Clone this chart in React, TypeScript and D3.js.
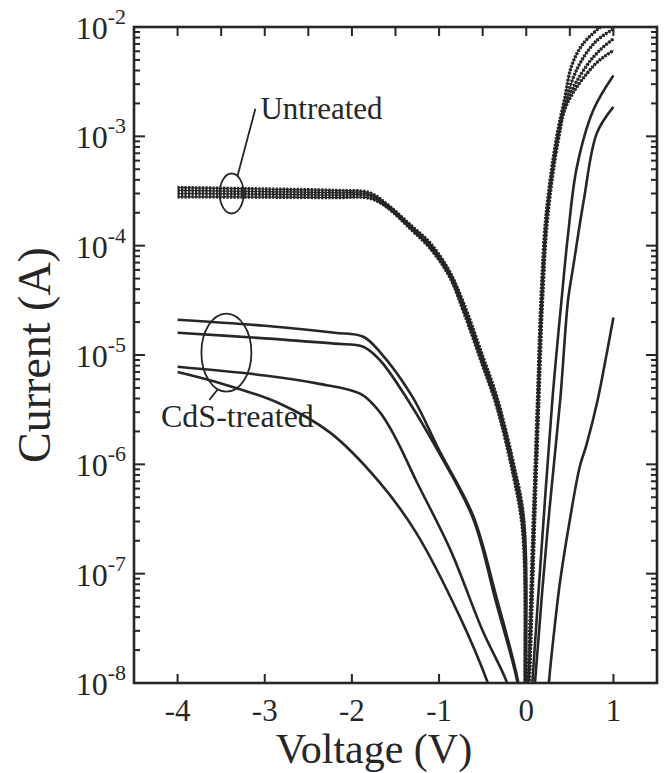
import React from "react";
import * as d3 from "d3";

// ---------- data (voltage V, current A) ----------
const xTicksBottom = [-4, -3, -2, -1, 0, 1];
const xTicksTop = [-4, -3.5, -3, -2.5, -2, -1.5, -1, -0.5, 0, 0.5, 1];
const yDecades = [-8, -7, -6, -5, -4, -3, -2];

// Untreated (marker curves)
const untreated1 = [
  [-4, 3.4e-4], [-3, 3.3e-4], [-2.2, 3.2e-4], [-1.8, 3.05e-4], [-1.6, 2.4e-4], [-1.33, 1.55e-4],
  [-1.1, 1.05e-4], [-0.88, 5.8e-5], [-0.72, 3.0e-5], [-0.5, 9.8e-6], [-0.34, 4.2e-6],
  [-0.15, 1.05e-6], [-0.03, 3.2e-7], [-0.008, 1e-8], [-0.004, 4e-9],
];
const untreated2 = [
  [-4, 3.2e-4], [-3, 3.12e-4], [-2.2, 3.05e-4], [-1.8, 2.95e-4], [-1.6, 2.35e-4], [-1.33, 1.5e-4],
  [-1.1, 1.0e-4], [-0.88, 5.6e-5], [-0.72, 2.8e-5], [-0.5, 9e-6], [-0.34, 3.9e-6],
  [-0.15, 9.6e-7], [-0.03, 2.9e-7], [-0.006, 1e-8], [-0.002, 4e-9],
];
const untreated3 = [
  [-4, 3.0e-4], [-3, 2.95e-4], [-2.2, 2.9e-4], [-1.8, 2.85e-4], [-1.6, 2.3e-4], [-1.33, 1.47e-4],
  [-1.1, 9.7e-5], [-0.88, 5.4e-5], [-0.72, 2.65e-5], [-0.5, 8.4e-6], [-0.34, 3.6e-6],
  [-0.15, 8.8e-7], [-0.035, 2.6e-7], [-0.01, 1e-8], [-0.006, 4e-9],
];
const untreated4 = [
  [-4, 2.8e-4], [-3, 2.78e-4], [-2.2, 2.75e-4], [-1.8, 2.72e-4], [-1.6, 2.25e-4], [-1.33, 1.43e-4],
  [-1.1, 9.4e-5], [-0.88, 5.2e-5], [-0.72, 2.5e-5], [-0.5, 8e-6], [-0.34, 3.4e-6],
  [-0.15, 8e-7], [-0.04, 2.4e-7], [-0.012, 1e-8], [-0.008, 4e-9],
];
const untreated1Fwd = [
  [0.0, 5e-9], [0.02, 1e-8], [0.075, 2.2e-7], [0.13, 4e-6], [0.17, 3.3e-5], [0.23, 2e-4],
  [0.35, 1e-3], [0.44, 2.2e-3], [0.52, 4.4e-3], [0.65, 7e-3], [0.85, 1e-2],
];
const untreated2Fwd = [
  [0.005, 5e-9], [0.025, 1e-8], [0.08, 2.2e-7], [0.135, 4e-6], [0.175, 3.2e-5], [0.235, 1.9e-4],
  [0.355, 9.5e-4], [0.45, 2.1e-3], [0.6, 4.4e-3], [0.8, 7.4e-3], [1.0, 9.6e-3],
];
const untreated3Fwd = [
  [0.01, 5e-9], [0.03, 1e-8], [0.085, 2.2e-7], [0.14, 4e-6], [0.18, 3.1e-5], [0.24, 1.85e-4],
  [0.36, 9.2e-4], [0.46, 2.05e-3], [0.69, 4.4e-3], [0.85, 6.2e-3], [1.0, 7.8e-3],
];
const untreated4Fwd = [
  [0.015, 5e-9], [0.035, 1e-8], [0.09, 2.2e-7], [0.145, 4e-6], [0.185, 3.0e-5], [0.245, 1.8e-4],
  [0.365, 9e-4], [0.47, 2e-3], [0.77, 4.4e-3], [0.9, 5.4e-3], [1.0, 6.1e-3],
];

// CdS-treated (solid lines)
const cds1Rev = [
  [-4, 2.1e-5], [-3, 1.85e-5], [-2.2, 1.6e-5], [-1.87, 1.47e-5], [-1.68, 1.07e-5], [-1.31, 4.2e-6],
  [-1.0, 1.35e-6], [-0.61, 3.4e-7], [-0.34, 6e-8], [-0.09, 1e-8], [-0.05, 5e-9],
];
const cds2Rev = [
  [-4, 1.6e-5], [-3, 1.42e-5], [-2.2, 1.27e-5], [-1.87, 1.19e-5], [-1.68, 9e-6], [-1.36, 3.9e-6],
  [-1.0, 1.27e-6], [-0.61, 3.2e-7], [-0.35, 5.6e-8], [-0.1, 1e-8], [-0.06, 5e-9],
];
const cds3Rev = [
  [-4, 7.8e-6], [-3, 6.5e-6], [-2.4, 5.5e-6], [-1.9, 4.4e-6], [-1.68, 3e-6], [-1.5, 1.75e-6],
  [-1.26, 7e-7], [-0.87, 1.65e-7], [-0.5, 3e-8], [-0.22, 1e-8], [-0.18, 7e-9],
];
const cds4Rev = [
  [-4, 7e-6], [-3.5, 5.5e-6], [-2.83, 3.6e-6], [-2.25, 1.95e-6], [-1.68, 6.8e-7], [-1.26, 2.35e-7],
  [-0.76, 4e-8], [-0.44, 1e-8], [-0.4, 8e-9],
];
const cdsAFwd = [
  [0.05, 5e-9], [0.07, 1e-8], [0.18, 1.9e-7], [0.3, 3.9e-6], [0.405, 3.2e-5], [0.48, 1.28e-4],
  [0.58, 5.2e-4], [0.77, 1.74e-3], [1.0, 3.6e-3],
];
const cdsBFwd = [
  [0.08, 5e-9], [0.1, 1e-8], [0.24, 2.3e-7], [0.39, 3.9e-6], [0.48, 3.2e-5], [0.54, 6.5e-5],
  [0.66, 2.6e-4], [0.81, 1.07e-3], [1.0, 1.86e-3],
];
const cdsCFwd = [
  [0.24, 5e-9], [0.26, 1e-8], [0.33, 3.5e-8], [0.39, 8.7e-8], [0.5, 3.1e-7], [0.615, 9.6e-7],
  [0.69, 1.5e-6], [0.82, 3.9e-6], [0.92, 1e-5], [1.0, 2.2e-5],
];

const untreatedCurves = [untreated1, untreated2, untreated3, untreated4, untreated1Fwd, untreated2Fwd, untreated3Fwd, untreated4Fwd];
const cdsCurves = [cds1Rev, cds2Rev, cds3Rev, cds4Rev, cdsAFwd, cdsBFwd, cdsCFwd];

// annotation anchors (data coords)
const untreatedEllipse = { v: -3.38, i: 3.0e-4 };
const cdsEllipse = { v: -3.44, i: 1.05e-5 };
const untreatedLabel = { text: "Untreated", v: -3.05, i: 1.45e-3 };
const cdsLabel = { text: "CdS-treated", v: -4.19, i: 2.2e-6 };

// ---------- layout ----------
const W = 665;
const H = 773;
const M = { left: 134, right: 657, top: 27, bottom: 683 };
const FONT = "'Liberation Serif', 'Times New Roman', serif";
const INK = "#262626";

export default function App() {
  const x = d3.scaleLinear().domain([-4.5, 1.5]).range([M.left, M.right]);
  const y = d3.scaleLog().domain([1e-8, 1e-2]).range([M.bottom, M.top]);
  const line = d3
    .line<number[]>()
    .x((d) => x(d[0]))
    .y((d) => y(d[1]))
    .curve(d3.curveCatmullRom.alpha(0.5));

  const minorTicks: number[] = [];
  yDecades.slice(0, -1).forEach((d) => {
    for (let k = 2; k <= 9; k++) minorTicks.push(k * Math.pow(10, d));
  });

  const ue = { cx: x(untreatedEllipse.v), cy: y(untreatedEllipse.i) };
  const ce = { cx: x(cdsEllipse.v), cy: y(cdsEllipse.i) };
  const ul = { x: x(untreatedLabel.v), y: y(untreatedLabel.i) };
  const cl = { x: x(cdsLabel.v), y: y(cdsLabel.i) };

  return (
    <svg
      width={W}
      height={H}
      style={{ position: "absolute", left: 0, top: 0, background: "#fff" }}
      fontFamily={FONT}
    >
      <defs>
        <clipPath id="plot">
          <rect x={M.left} y={M.top} width={M.right - M.left} height={M.bottom - M.top} />
        </clipPath>
      </defs>

      {/* curves */}
      <g clipPath="url(#plot)" fill="none" strokeLinejoin="round">
        {cdsCurves.map((c, i) => (
          <path key={"c" + i} d={line(c) || ""} stroke={INK} strokeWidth={2.6} />
        ))}
        {untreatedCurves.map((c, i) => (
          <g key={"u" + i}>
            <path d={line(c) || ""} stroke={INK} strokeWidth={1.2} />
            <path d={line(c) || ""} stroke={INK} strokeWidth={3.4} strokeDasharray="2.2 1.3" />
          </g>
        ))}
      </g>

      {/* frame */}
      <rect
        x={M.left}
        y={M.top}
        width={M.right - M.left}
        height={M.bottom - M.top}
        fill="none"
        stroke={INK}
        strokeWidth={2.6}
      />

      {/* ticks */}
      <g stroke={INK} strokeWidth={2}>
        {xTicksBottom.map((t) => (
          <line key={"xb" + t} x1={x(t)} x2={x(t)} y1={M.bottom} y2={M.bottom - 9} />
        ))}
        {xTicksTop.map((t) => (
          <line key={"xt" + t} x1={x(t)} x2={x(t)} y1={M.top} y2={M.top + 9} />
        ))}
        {yDecades.map((d) => (
          <g key={"yd" + d}>
            <line x1={M.left} x2={M.left + 11} y1={y(Math.pow(10, d))} y2={y(Math.pow(10, d))} />
            <line x1={M.right} x2={M.right - 11} y1={y(Math.pow(10, d))} y2={y(Math.pow(10, d))} />
          </g>
        ))}
        {minorTicks.map((t, i) => (
          <g key={"ym" + i}>
            <line x1={M.left} x2={M.left + 6} y1={y(t)} y2={y(t)} />
            <line x1={M.right} x2={M.right - 6} y1={y(t)} y2={y(t)} />
          </g>
        ))}
      </g>

      {/* tick labels */}
      <g fill={INK}>
        {xTicksBottom.map((t) => (
          <text key={"xl" + t} x={x(t)} y={721} fontSize={31} textAnchor="middle">
            {t}
          </text>
        ))}
        {yDecades.map((d) => (
          <text key={"yl" + d} x={126} y={y(Math.pow(10, d)) + 12} fontSize={32} textAnchor="end">
            10
            <tspan dy={-15} fontSize={22}>
              {d}
            </tspan>
          </text>
        ))}
      </g>

      {/* axis titles */}
      <text x={374} y={763} fontSize={42} textAnchor="middle" fill={INK}>
        Voltage (V)
      </text>
      <text
        transform={`translate(50, ${(M.top + M.bottom) / 2}) rotate(-90)`}
        fontSize={46}
        textAnchor="middle"
        fill={INK}
      >
        Current (A)
      </text>

      {/* annotations */}
      <g fill="none" stroke={INK} strokeWidth={1.8}>
        <ellipse cx={ue.cx} cy={ue.cy} rx={12} ry={20} />
        <line x1={ue.cx + 6} y1={ue.cy - 18} x2={ul.x - 5} y2={ul.y - 10} />
        <ellipse cx={ce.cx} cy={ce.cy} rx={25} ry={39} />
        <line x1={ce.cx - 9} y1={ce.cy + 37} x2={ce.cx - 17} y2={cl.y - 27} />
      </g>
      <text x={ul.x} y={ul.y} fontSize={31} fill={INK}>
        {untreatedLabel.text}
      </text>
      <text x={cl.x} y={cl.y} fontSize={32} fill={INK}>
        {cdsLabel.text}
      </text>
    </svg>
  );
}
